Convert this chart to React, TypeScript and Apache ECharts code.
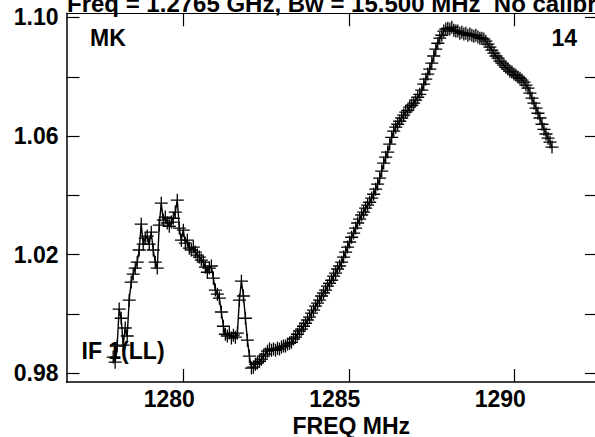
import React, { useEffect, useRef } from "react";
import * as echarts from "echarts";

// Spectral axis: channel frequencies (MHz)
const CHANNEL_START_MHZ = 1277.88;
const CHANNEL_WIDTH_MHZ = 0.06055;

// Amplitude per channel
const CHANNEL_VALUES = [
  0.9855, 0.9838, 0.9892, 1.0017, 0.9986, 0.9895, 0.9953, 0.9926, 1.0047, 1.0108,
  1.0135, 1.0155, 1.0175, 1.0216, 1.0303, 1.0236, 1.0256, 1.0263, 1.0236, 1.0276,
  1.0216, 1.0175, 1.0155, 1.0300, 1.0374, 1.0317, 1.0327, 1.0307, 1.0296, 1.0310,
  1.0323, 1.0344, 1.0384, 1.0290, 1.0249, 1.0283, 1.0239, 1.0249, 1.0222, 1.0216,
  1.0226, 1.0209, 1.0199, 1.0192, 1.0182, 1.0175, 1.0158, 1.0141, 1.0155, 1.0162,
  1.0121, 1.0081, 1.0067, 1.0054, 1.0007, 0.9959, 0.9932, 0.9926, 0.9936, 0.9919,
  0.9929, 0.9922, 0.9936, 1.0047, 1.0111, 1.0061, 0.9986, 0.9912, 0.9858, 0.9818,
  0.9821, 0.9831, 0.9835, 0.9841, 0.9848, 0.9858, 0.9865, 0.9875, 0.9882, 0.9878,
  0.9882, 0.9878, 0.9885, 0.9882, 0.9889, 0.9892, 0.9892, 0.9899, 0.9902, 0.9905,
  0.9916, 0.9922, 0.9932, 0.9943, 0.9949, 0.9959, 0.9969, 0.9980, 0.9990, 1.0003,
  1.0013, 1.0027, 1.0037, 1.0047, 1.0061, 1.0071, 1.0081, 1.0094, 1.0104, 1.0114,
  1.0128, 1.0138, 1.0152, 1.0162, 1.0175, 1.0192, 1.0209, 1.0226, 1.0243, 1.0259,
  1.0273, 1.0290, 1.0307, 1.0320, 1.0334, 1.0344, 1.0357, 1.0367, 1.0377, 1.0391,
  1.0404, 1.0421, 1.0438, 1.0458, 1.0482, 1.0509, 1.0529, 1.0546, 1.0573, 1.0596,
  1.0617, 1.0630, 1.0640, 1.0650, 1.0661, 1.0671, 1.0681, 1.0687, 1.0698, 1.0704,
  1.0711, 1.0721, 1.0731, 1.0741, 1.0755, 1.0775, 1.0792, 1.0809, 1.0826, 1.0846,
  1.0870, 1.0893, 1.0913, 1.0930, 1.0940, 1.0954, 1.0961, 1.0964, 1.0961, 1.0967,
  1.0957, 1.0954, 1.0954, 1.0947, 1.0950, 1.0944, 1.0947, 1.0940, 1.0944, 1.0940,
  1.0937, 1.0940, 1.0934, 1.0930, 1.0930, 1.0927, 1.0920, 1.0910, 1.0900, 1.0890,
  1.0880, 1.0870, 1.0863, 1.0853, 1.0846, 1.0839, 1.0832, 1.0826, 1.0819, 1.0816,
  1.0809, 1.0805, 1.0799, 1.0795, 1.0789, 1.0782, 1.0772, 1.0762, 1.0745, 1.0728,
  1.0711, 1.0694, 1.0677, 1.0661, 1.0640, 1.0623, 1.0607, 1.0593, 1.0580, 1.0563,
];

const X_TICKS = [1280, 1285, 1290];
const Y_TICKS = [0.98, 1.0, 1.02, 1.04, 1.06, 1.08, 1.1];
const Y_LABELS = [0.98, 1.02, 1.06, 1.1];

const X_MIN = 1276.47;
const X_MAX = 1292.53;
const Y_MIN = 0.9771;
const Y_MAX = 1.1014;

const TITLE = "Freq = 1.2765 GHz, Bw = 15.500 MHz  No calibration applied";
const FONT = "'Liberation Sans', Arial, Helvetica, sans-serif";

export default function App() {
  const ref = useRef<HTMLDivElement>(null);

  useEffect(() => {
    if (!ref.current) return;
    const chart = echarts.init(ref.current, undefined, { renderer: "svg" });
    const data = CHANNEL_VALUES.map((v, i) => [
      CHANNEL_START_MHZ + i * CHANNEL_WIDTH_MHZ,
      v,
    ]);
    const tickStyle = { inside: true, length: 13, lineStyle: { color: "#000", width: 1.2 } };
    const labelFont = { fontSize: 23, fontWeight: "bold", color: "#000", fontFamily: FONT };

    chart.setOption({
      animation: false,
      backgroundColor: "#fff",
      grid: {
        left: 66.5,
        top: 13.3,
        width: 531.5,
        height: 368.7,
        containLabel: false,
        outerBoundsMode: "none",
      },
      xAxis: [
        {
          type: "value",
          position: "bottom",
          min: X_MIN,
          max: X_MAX,
          axisLine: { lineStyle: { color: "#000", width: 1.5 } },
          axisTick: { ...tickStyle, customValues: X_TICKS },
          axisLabel: {
            ...labelFont,
            customValues: X_TICKS,
            margin: 5,
            padding: [0, 28, 0, 0],
            formatter: (v: number) => String(Math.round(v)),
          },
          splitLine: { show: false },
          name: "FREQ MHz",
          nameLocation: "middle",
          nameGap: 21,
          nameTextStyle: { ...labelFont, padding: [0, 0, 0, 38] },
        },
        {
          type: "value",
          position: "top",
          min: X_MIN,
          max: X_MAX,
          axisLine: { lineStyle: { color: "#000", width: 1 } },
          axisTick: { ...tickStyle, customValues: X_TICKS },
          axisLabel: { show: false },
          splitLine: { show: false },
        },
      ],
      yAxis: [
        {
          type: "value",
          position: "left",
          min: Y_MIN,
          max: Y_MAX,
          axisLine: { show: true, lineStyle: { color: "#000", width: 1.5 } },
          axisTick: { show: true, ...tickStyle, customValues: Y_TICKS },
          axisLabel: {
            ...labelFont,
            customValues: Y_LABELS,
            margin: 8,
            formatter: (v: number) => v.toFixed(2),
          },
          splitLine: { show: false },
        },
        {
          type: "value",
          position: "right",
          min: Y_MIN,
          max: Y_MAX,
          axisLine: { show: true, lineStyle: { color: "#000", width: 1 } },
          axisTick: { show: true, ...tickStyle, customValues: Y_TICKS },
          axisLabel: { show: false },
          splitLine: { show: false },
        },
      ],
      graphic: [
        {
          type: "text",
          left: 67,
          top: -9,
          z: 0,
          style: { text: TITLE, ...labelFont, fontSize: 24, fill: "#000" },
        },
        {
          type: "text",
          x: 90,
          y: 37.5,
          z: 0,
          style: { text: "MK", ...labelFont, fill: "#000", verticalAlign: "middle" },
        },
        {
          type: "text",
          x: 551.5,
          y: 38,
          z: 0,
          style: { text: "14", ...labelFont, fill: "#000", verticalAlign: "middle" },
        },
        {
          type: "text",
          x: 81.5,
          y: 351,
          z: 0,
          style: { text: "IF 1(LL)", ...labelFont, fill: "#000", verticalAlign: "middle" },
        },
      ],
      series: [
        {
          type: "line",
          xAxisIndex: 0,
          yAxisIndex: 0,
          data,
          z: 5,
          showSymbol: true,
          showAllSymbol: true,
          symbol: "path://M0,6.3 H14 V7.7 H0 Z M6.3,0 H7.7 V14 H6.3 Z",
          symbolSize: [13, 13],
          itemStyle: { color: "#000" },
          lineStyle: { color: "#000", width: 1.4 },
          emphasis: { disabled: true },
        },
      ],
    });
    return () => chart.dispose();
  }, []);

  return (
    <div
      ref={ref}
      style={{ position: "absolute", left: 0, top: 0, width: 595, height: 437 }}
    />
  );
}
